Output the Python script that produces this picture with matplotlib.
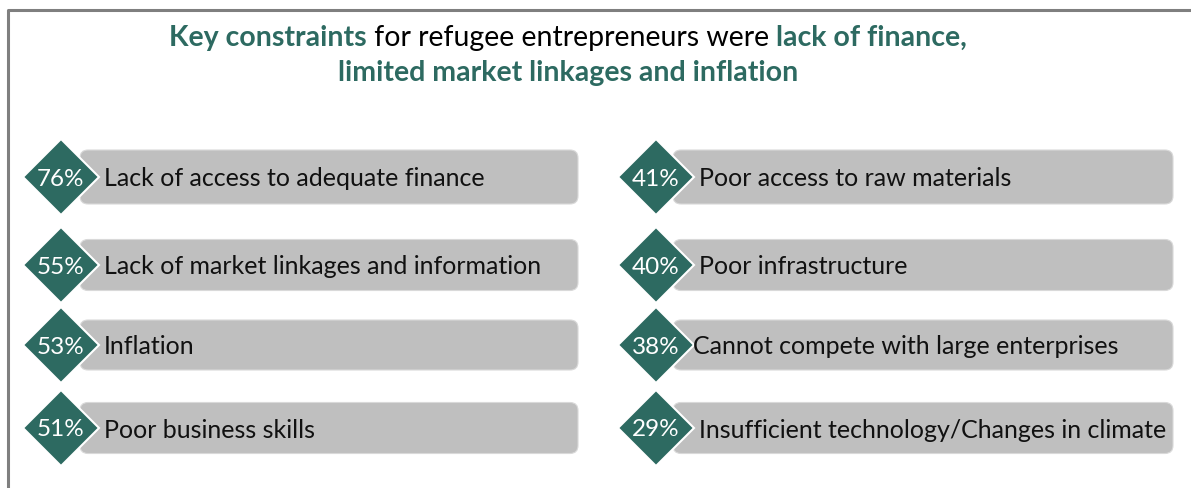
import matplotlib
matplotlib.use("Agg")
import matplotlib.pyplot as plt
from matplotlib.patches import FancyBboxPatch, Polygon

# ---- data ----
left_pcts = [76, 55, 53, 51]
left_labels = ["Lack of access to adequate finance",
               "Lack of market linkages and information",
               "Inflation",
               "Poor business skills"]
right_pcts = [41, 40, 38, 29]
right_labels = ["Poor access to raw materials",
                "Poor infrastructure",
                "Cannot compete with large enterprises",
                "Insufficient technology/Changes in climate"]
title_line1 = [("Key constraints", True), (" for refugee entrepreneurs were ", False),
               ("lack of finance,", True)]
title_line2 = [("limited market linkages and inflation", True)]

TEAL = "#2D6A61"
GRAY = "#BFBFBF"
FONT = "Lato"

W, H = 1191, 489
fig = plt.figure(figsize=(W / 100, H / 100), dpi=100)
ax = fig.add_axes([0, 0, 1, 1])
ax.set_xlim(0, W)
ax.set_ylim(H, 0)
ax.axis("off")

# frame
ax.plot([7.5, 7.5, W], [H, 10.5, 10.5], color="#7F7F7F", lw=2.2, solid_capstyle="butt")

row_y = [178, 266, 346, 429]
box_h = [54, 51, 50, 51]

def draw_col(pcts, labels, dx, box_x0, box_x1, text_xs):
    for p, lab, y, bh, tx in zip(pcts, labels, row_y, box_h, text_xs):
        ax.add_patch(FancyBboxPatch((box_x0, y - bh / 2), box_x1 - box_x0, bh,
                                    boxstyle="round,pad=0,rounding_size=8",
                                    fc=GRAY, ec="#D9D9D9", lw=0.8, zorder=1))
        d = 38
        ax.add_patch(Polygon([(dx, y - d), (dx + d, y), (dx, y + d), (dx - d, y)],
                             closed=True, fc=TEAL, ec="white", lw=1.5, zorder=2))
        ax.text(dx, y + 1, f"{p}%", color="white", fontsize=17.5, family=FONT,
                ha="center", va="center", zorder=3)
        ax.text(tx, y + 1, lab, color="#111111", fontsize=18, family=FONT,
                ha="left", va="center", zorder=3)

draw_col(left_pcts, left_labels, 61, 80, 578, [104, 104, 104, 104])
draw_col(right_pcts, right_labels, 656, 673, 1173, [699, 699, 693, 699])

# title with mixed styles
fig.canvas.draw()
r = fig.canvas.get_renderer()

def draw_line(parts, cx, y, size=20.5):
    texts = []
    for s, bold in parts:
        t = ax.text(0, y, s, fontsize=size, family=FONT,
                    fontweight="bold" if bold else "normal",
                    color=TEAL if bold else "black", ha="left", va="center")
        texts.append(t)
    widths = [t.get_window_extent(renderer=r).width for t in texts]
    total = sum(widths)
    x = cx - total / 2
    for t, w in zip(texts, widths):
        t.set_x(x)
        x += w

draw_line(title_line1, 568, 38)
draw_line(title_line2, 568, 73)

fig.savefig("out.png", dpi=100)
